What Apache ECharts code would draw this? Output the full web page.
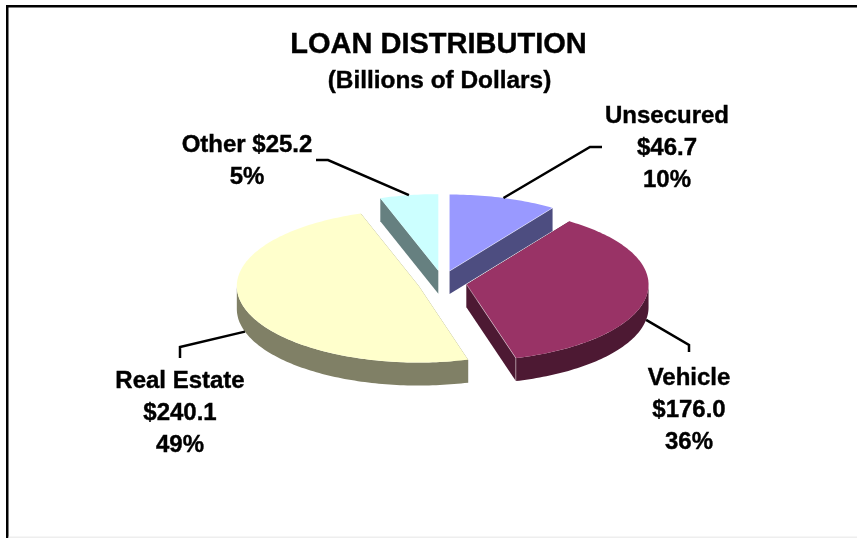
<!DOCTYPE html>
<html>
<head>
<meta charset="utf-8">
<style>
  html, body { margin: 0; padding: 0; background: #fff; }
  #chart { width: 857px; height: 538px; }
</style>
<script src="https://cdn.jsdelivr.net/npm/echarts@6/dist/echarts.min.js"></script>
</head>
<body>
<div id="chart"></div>
<script>
const categories = ['Unsecured', 'Vehicle', 'Real Estate', 'Other']
const amounts = [46.7, 176.0, 240.1, 25.2]
const topColors = ['#9999ff', '#993366', '#ffffcc', '#ccffff']
const sideColors = ['#4d4d80', '#4d1933', '#808066', '#668080']
// where each label sits and how its leader line bends, in pie order
const labelAt = [[667, 114], [689, 376], [180, 379], [247, 143]]
const elbows = [[[590, 147], [602, 147]], [[689, 345], [689, 352]], [[180, 347], [180, 358]], [[328, 160], [316, 160]]]
// back slices first so the front ones paint over them
const drawOrder = [3, 0, 2, 1]

const cx = 442.3, cy = 282.5, rx = 182, ry = 76.5, depth = 23, explodeX = 0.135, explodeY = 0.157
const font = 'bold 24px "Liberation Sans", Arial, sans-serif'
const total = amounts.reduce((a, b) => a + b, 0)

function point(a, ox, oy) {
  return [ox + rx * Math.sin(a), oy - ry * Math.cos(a)]
}

// apex of a slice once it has been pulled out along its middle angle
function apex(mid) {
  return [cx + rx * explodeX * Math.sin(mid), cy - ry * explodeY * Math.cos(mid)]
}

function arc(a0, a1, ox, oy, drop = 0) {
  const n = Math.max(2, Math.ceil((a1 - a0) / 0.02))
  const pts = []
  for (let i = 0; i <= n; i++) {
    const p = point(a0 + (a1 - a0) * i / n, ox, oy)
    pts.push([p[0], p[1] + drop])
  }
  return pts
}

function renderSlice(params, api) {
  const idx = api.value(0)
  const before = amounts.slice(0, idx).reduce((a, b) => a + b, 0)
  const a0 = before / total * Math.PI * 2
  const a1 = (before + api.value(1)) / total * Math.PI * 2
  const [ox, oy] = apex((a0 + a1) / 2)
  const top = [[ox, oy], ...arc(a0, a1, ox, oy)]
  const side = { fill: sideColors[idx] }
  const children = []

  // radial walls, then the part of the rim that faces the viewer
  ;[a0, a1].forEach((a) => {
    const p = point(a, ox, oy)
    children.push({
      type: 'polygon',
      shape: { points: [[ox, oy], p, [p[0], p[1] + depth], [ox, oy + depth]] },
      style: side,
    })
  })
  const from = Math.max(a0, Math.PI / 2)
  const to = Math.min(a1, Math.PI * 1.5)
  if (to > from) {
    children.push({
      type: 'polygon',
      shape: { points: [...arc(from, to, ox, oy), ...arc(from, to, ox, oy, depth).reverse()] },
      style: side,
    })
  }
  children.push({ type: 'polygon', shape: { points: top }, style: { fill: topColors[idx] } })

  // pale highlight where a visible wall meets the top face
  const pale = { stroke: 'rgba(255,255,255,0.55)', lineWidth: 0.8, fill: null }
  if (idx === 0) {
    children.push({ type: 'polyline', shape: { points: [[ox, oy], point(a1, ox, oy)] }, style: pale })
  }
  if (idx === 1) {
    const q = point(a1, ox, oy)
    children.push({ type: 'polyline', shape: { points: [[ox, oy], q, [q[0], q[1] + depth]] }, style: pale })
  }
  return { type: 'group', children }
}

function renderLabel(params, api) {
  const idx = api.value(0)
  const before = amounts.slice(0, idx).reduce((a, b) => a + b, 0)
  const mid = (before + api.value(1) / 2) / total * Math.PI * 2
  const [ox, oy] = apex(mid)
  const edge = point(mid, ox, oy)
  // leader lines on the front half start from the bottom of the rim
  if (Math.cos(mid) < 0) edge[1] += depth
  const pct = Math.round(api.value(1) / total * 100) + '%'
  const money = '$' + api.value(1).toFixed(1)
  const text = idx === 3
    ? categories[idx] + ' ' + money + '\n' + pct
    : categories[idx] + '\n' + money + '\n' + pct
  return {
    type: 'group',
    children: [
      {
        type: 'polyline',
        shape: { points: [edge, ...elbows[idx]] },
        style: { stroke: '#000', lineWidth: 2.5, fill: null },
      },
      {
        type: 'text',
        style: {
          x: labelAt[idx][0], y: labelAt[idx][1] - 14, text, font,
          fill: '#000', stroke: '#000', lineWidth: 0.4, align: 'center', verticalAlign: 'top', lineHeight: 32,
        },
      },
    ],
  }
}

const chart = echarts.init(document.getElementById('chart'), null, { renderer: 'canvas' })
const rows = drawOrder.map((i) => [i, amounts[i]])

chart.setOption({
  animation: false,
  backgroundColor: '#fff',
  title: [
    { text: 'LOAN DISTRIBUTION', left: 433.5, top: 25, textAlign: 'center', textStyle: { fontFamily: 'Liberation Sans', fontWeight: 'bold', fontSize: 29, color: '#000', textBorderColor: '#000', textBorderWidth: 0.4 } },
    { text: '(Billions of Dollars)', left: 434.5, top: 64, textAlign: 'center', textStyle: { fontFamily: 'Liberation Sans', fontWeight: 'bold', fontSize: 24.4, color: '#000', textBorderColor: '#000', textBorderWidth: 0.4 } },
  ],
  graphic: [
    { type: 'rect', shape: { x: 6, y: 5, width: 860, height: 2.5 }, style: { fill: '#000' } },
    { type: 'rect', shape: { x: 6, y: 5, width: 2.5, height: 540 }, style: { fill: '#000' } },
    { type: 'rect', shape: { x: 8.5, y: 536.5, width: 860, height: 1.5 }, style: { fill: '#eeeeee' } },
  ],
  series: [
    { type: 'custom', coordinateSystem: 'none', renderItem: renderSlice, data: rows, z: 2, silent: true },
    { type: 'custom', coordinateSystem: 'none', renderItem: renderLabel, data: rows, z: 3, silent: true },
  ],
})
</script>
</body>
</html>
